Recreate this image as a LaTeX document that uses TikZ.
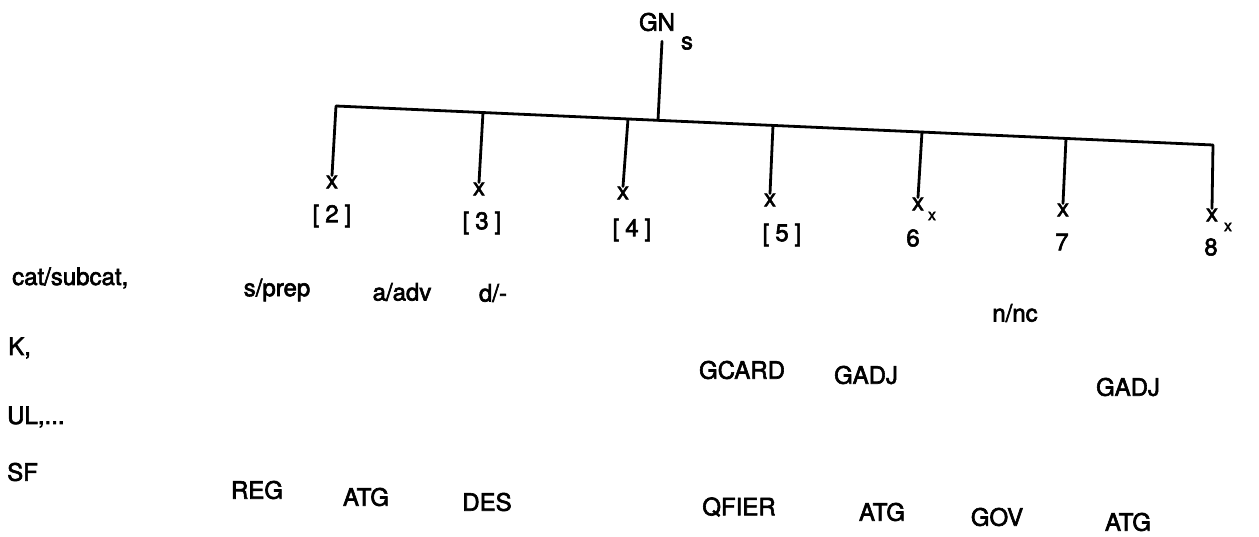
\documentclass[tikz,border=0pt]{standalone}
\usepackage{fontspec}
\setmainfont{TeX Gyre Heros}
\newfontfamily\lblfont[FakeBold=2.5]{TeX Gyre Heros}
\begin{document}
\begin{tikzpicture}[x=1pt,y=-1pt,
  lbl/.style={inner sep=0pt, font=\lblfont\fontsize{24}{28}\selectfont},
  xmk/.style={inner sep=0pt, font=\lblfont\fontsize{24}{28}\selectfont},
  tinyx/.style={inner sep=0pt, font=\lblfont\fontsize{16}{18}\selectfont},
  edge/.style={line width=2.8pt, line cap=round}]
\useasboundingbox (0,0) rectangle (1259,537);
% root
\node[lbl] (gn) at (657,22) {GN};
\node[lbl] (gns) at (687,43) {s};
% bar coordinates
\coordinate (b2) at (336,106);
\coordinate (b3) at (483,112.5);
\coordinate (b4) at (628,119);
\coordinate (bm) at (658,120.3);
\coordinate (b5) at (773,125.5);
\coordinate (b6) at (922,132);
\coordinate (b7) at (1066,138.5);
\coordinate (b8) at (1213,145);
% x marks
\node[xmk] (x2) at (332,182) {x};
\node[xmk] (x3) at (479,189) {x};
\node[xmk] (x4) at (623,193) {x};
\node[xmk] (x5) at (770,200) {x};
\node[xmk] (x6) at (918,204) {x};
\node[xmk] (x7) at (1063,210) {x};
\node[xmk] (x8) at (1212,215) {x};
\node[tinyx] (x6s) at (932,216) {x};
\node[tinyx] (x8s) at (1228,227) {x};
% numbers
\node[lbl] (n2) at (332,216) {[\kern6pt2\kern6pt]};
\node[lbl] (n3) at (482,223) {[\kern6pt3\kern6pt]};
\node[lbl] (n4) at (632,230) {[\kern6pt4\kern6pt]};
\node[lbl] (n5) at (782,235) {[\kern6pt5\kern6pt]};
\node[lbl] (n6) at (913,238) {6};
\node[lbl] (n7) at (1062,242) {7};
\node[lbl] (n8) at (1211,247) {8};
% tree lines
\draw[edge] ([xshift=5pt,yshift=-10pt]gn.south) -- (bm);
\draw[edge, line cap=butt] (b2) -- (b8);
\foreach \i in {2,...,8} \draw[edge] (b\i) -- (x\i.north);
% left column
\node[lbl, anchor=west] (rc) at (12,278) {cat/subcat,};
\node[lbl, anchor=west] (rk) at (8,348) {K,};
\node[lbl, anchor=west] (ru) at (7,417) {UL,...};
\node[lbl, anchor=west] (rs) at (7,472) {SF};
% cat/subcat row
\node[lbl] (c2) at (277,290) {s/prep};
\node[lbl] (c3) at (402,292) {a/adv};
\node[lbl] (c4) at (493,293) {d/-};
\node[lbl] (c7) at (1015,313) {n/nc};
% K row
\node[lbl] (k5) at (742,370) {GCARD};
\node[lbl] (k6) at (866,375) {GADJ};
\node[lbl] (k8) at (1128,387) {GADJ};
% SF row
\node[lbl] (s2) at (257,490) {REG};
\node[lbl] (s3) at (366,497) {ATG};
\node[lbl] (s4) at (487,502) {DES};
\node[lbl] (s5) at (739,507) {QFIER};
\node[lbl] (s6) at (882,512) {ATG};
\node[lbl] (s7) at (997,517) {GOV};
\node[lbl] (s8) at (1128,522) {ATG};
\end{tikzpicture}
\end{document}
